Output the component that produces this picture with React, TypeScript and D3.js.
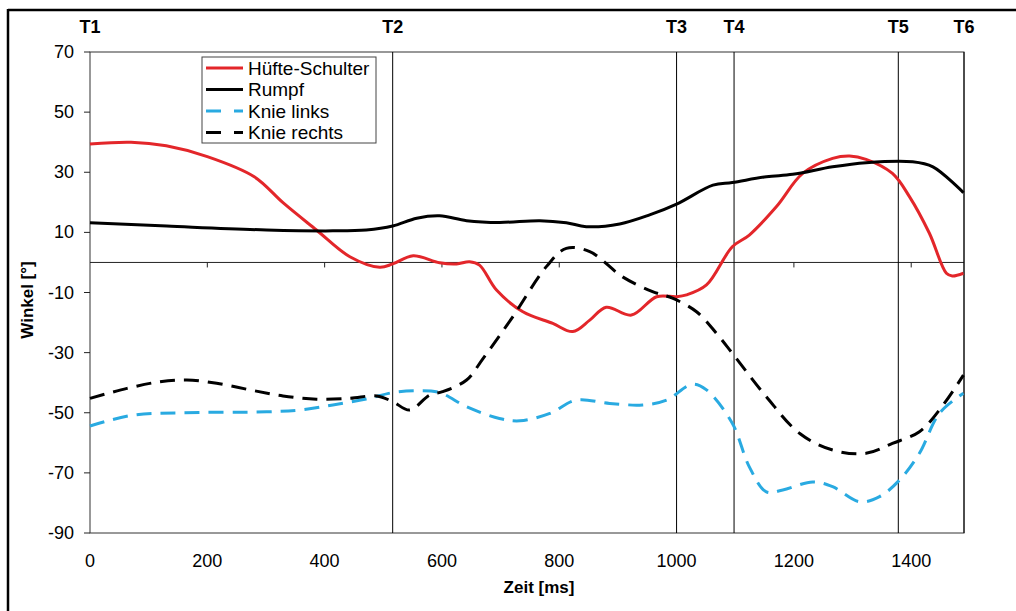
import React from "react";
import * as d3 from "d3";

// Zeitpunkte der Markierungen (ms)
const markerNames = ["T1", "T2", "T3", "T4", "T5", "T6"];
const markerTimes = [0, 516, 1000, 1098, 1378, 1490];

const xTicks = [0, 200, 400, 600, 800, 1000, 1200, 1400];
const yTicks = [70, 50, 30, 10, -10, -30, -50, -70, -90];

// Hüfte-Schulter
const huefteT = [0, 70, 130, 200, 280, 330, 386, 443, 494, 516, 551, 596, 625, 647, 664, 693, 738, 789, 823, 852, 880, 923, 966, 1000, 1017, 1051, 1095, 1124, 1170, 1215, 1266, 1295, 1323, 1368, 1397, 1431, 1460, 1470, 1489];
const huefteV = [39.4, 40, 38.8, 35.2, 28.5, 19.7, 10.8, 1.9, -1.6, -0.5, 2.2, -0.1, -0.5, 0.2, -0.9, -9.2, -16.4, -20.3, -23, -19.2, -14.9, -17.5, -11.4, -11.4, -10.8, -7.5, 5.2, 9.1, 18.5, 29.6, 34.6, 35.4, 34.3, 29.6, 21.9, 9.7, -3.6, -4.5, -3.6];

// Rumpf
const rumpfT = [0, 131, 301, 414, 471, 516, 557, 596, 642, 698, 767, 812, 846, 903, 954, 1000, 1062, 1095, 1153, 1198, 1266, 1323, 1402, 1437, 1489];
const rumpfV = [13.2, 12.1, 10.8, 10.5, 10.8, 12.1, 14.7, 15.5, 13.9, 13.3, 13.9, 13.2, 11.9, 12.8, 15.8, 19.4, 25.7, 26.6, 28.5, 29.3, 31.8, 33.2, 33.5, 31.8, 23.2];

// Knie links
const knieLT = [0, 73, 159, 301, 358, 414, 471, 516, 557, 596, 642, 698, 733, 784, 829, 886, 942, 983, 1027, 1051, 1095, 1124, 1153, 1181, 1232, 1266, 1312, 1346, 1380, 1414, 1448, 1489];
const knieLV = [-54.4, -50.8, -50, -49.7, -49.1, -47.4, -45.4, -43.3, -42.7, -43.3, -48, -51.9, -52.7, -50.2, -45.8, -46.9, -47.4, -45.8, -40.5, -42.4, -53.5, -68, -76.3, -75.7, -73, -74.6, -79.6, -77.9, -72.4, -63.5, -50.2, -43.5];

// Knie rechts
const knieRT = [0, 63, 119, 165, 216, 273, 329, 386, 443, 489, 516, 545, 579, 601, 642, 670, 721, 778, 812, 852, 908, 959, 993, 1034, 1068, 1095, 1153, 1210, 1266, 1323, 1368, 1414, 1448, 1489];
const knieRV = [-45.2, -41.9, -39.7, -39.1, -40.2, -42.4, -44.4, -45.5, -45.2, -44.4, -46.3, -49.1, -44.1, -43, -39.1, -32, -18, -1.4, 4.7, 3.6, -4.8, -9.7, -11.9, -16.4, -23.6, -30.2, -44.7, -56.9, -62.4, -63.5, -60.2, -56.3, -49.1, -37.5];

const series = [
  { name: "Hüfte-Schulter", t: huefteT, v: huefteV, color: "#e3262a", dash: null },
  { name: "Rumpf", t: rumpfT, v: rumpfV, color: "#000000", dash: null },
  { name: "Knie links", t: knieLT, v: knieLV, color: "#29aae1", dash: "15,9" },
  { name: "Knie rechts", t: knieRT, v: knieRV, color: "#000000", dash: "15,9" },
];

const W = 1016;
const H = 611;
const left = 90, right = 964, top = 52, bottom = 533;
const font = "'Liberation Sans', Arial, sans-serif";

export default function App() {
  const x = d3.scaleLinear().domain([0, 1490]).range([left, right]);
  const y = d3.scaleLinear().domain([-90, 70]).range([bottom, top]);
  const line = d3
    .line<[number, number]>()
    .x((d) => x(d[0]))
    .y((d) => y(d[1]))
    .curve(d3.curveCatmullRom.alpha(0.5));

  return (
    <svg width={W} height={H} style={{ position: "absolute", left: 0, top: 0, background: "#fff" }}>
      {/* outer frame */}
      <line x1={8} x2={8} y1={9} y2={H} stroke="#000" strokeWidth={2.5} />
      <line x1={8} x2={W} y1={10} y2={10} stroke="#000" strokeWidth={2.5} />

      {/* plot frame */}
      <rect x={left} y={top} width={right - left} height={bottom - top} fill="none" stroke="#333" strokeWidth={1} />

      {/* zero line with ticks */}
      <line x1={left} x2={right} y1={y(0)} y2={y(0)} stroke="#222" strokeWidth={1} />
      {xTicks.slice(1).map((t) => (
        <line key={t} x1={x(t)} x2={x(t)} y1={y(0)} y2={y(0) + 5} stroke="#222" />
      ))}
      {yTicks.map((t) => (
        <line key={t} x1={left - 6} x2={left} y1={y(t)} y2={y(t)} stroke="#222" />
      ))}

      {/* marker lines */}
      {markerTimes.map((t, i) => (
        <g key={markerNames[i]}>
          {i > 0 && <line x1={x(t)} x2={x(t)} y1={top} y2={bottom} stroke="#000" strokeWidth={1} />}
          <text x={x(t)} y={33} textAnchor="middle" fontFamily={font} fontWeight="bold" fontSize={18}>
            {markerNames[i]}
          </text>
        </g>
      ))}

      {/* tick labels */}
      {yTicks.map((t) => (
        <text key={t} x={74} y={y(t) + 6} textAnchor="end" fontFamily={font} fontSize={18}>
          {t}
        </text>
      ))}
      {xTicks.map((t) => (
        <text key={t} x={x(t)} y={567} textAnchor="middle" fontFamily={font} fontSize={18}>
          {t}
        </text>
      ))}

      {/* axis titles */}
      <text x={539} y={593} textAnchor="middle" fontFamily={font} fontWeight="bold" fontSize={17}>
        Zeit [ms]
      </text>
      <text transform="translate(33,300) rotate(-90)" textAnchor="middle" fontFamily={font} fontWeight="bold" fontSize={17}>
        Winkel [°]
      </text>

      {/* series */}
      {series.map((s) => (
        <path
          key={s.name}
          d={line(s.t.map((t, i) => [t, s.v[i]] as [number, number])) || ""}
          fill="none"
          stroke={s.color}
          strokeWidth={3}
          strokeDasharray={s.dash || undefined}
          strokeLinejoin="round"
        />
      ))}

      {/* legend */}
      <rect x={202} y={57} width={174} height={86} fill="#fff" stroke="#444" strokeWidth={1} />
      {series.map((s, i) => (
        <g key={s.name} transform={`translate(0,${68 + i * 21.5})`}>
          <line x1={206} x2={243} y1={0} y2={0} stroke={s.color} strokeWidth={3} strokeDasharray={s.dash ? "15,13" : undefined} />
          <text x={248} y={6.5} fontFamily={font} fontSize={19}>
            {s.name}
          </text>
        </g>
      ))}
    </svg>
  );
}
